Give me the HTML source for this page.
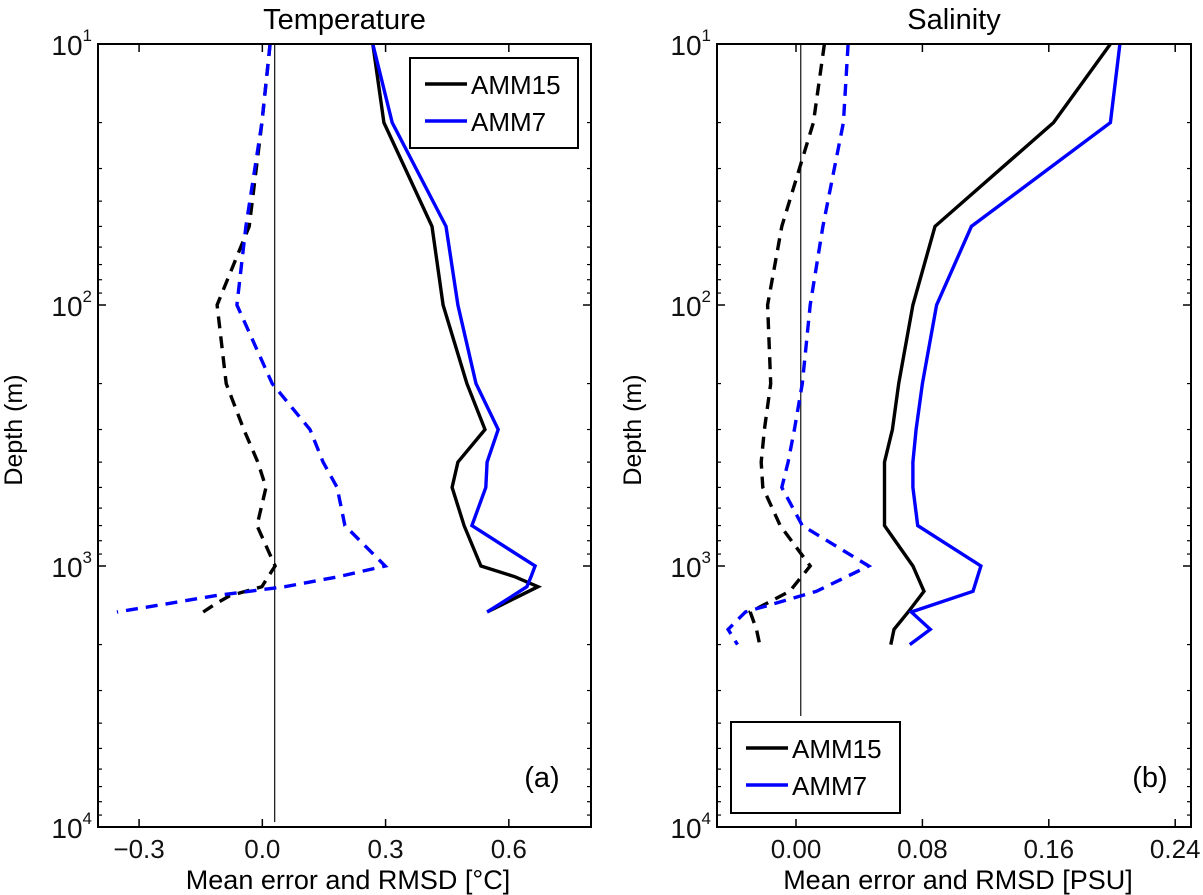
<!DOCTYPE html>
<html><head><meta charset="utf-8">
<style>
html,body{margin:0;padding:0;background:#fff;}
svg{display:block;font-family:"Liberation Sans","DejaVu Sans",sans-serif;}
</style></head>
<body>
<svg id="fig" width="1203" height="895" viewBox="0 0 1203 895" xmlns="http://www.w3.org/2000/svg"></svg>
<script>
// ---- Temperature panel data ----
const tDepths = [10,20,50,100,200,300,400,500,700,1000,1100,1200,1300,1400,1500];
const tRmsAMM15 = [0.269,0.296,0.413,0.440,0.498,0.542,0.476,0.462,0.491,0.532,0.615,0.671,0.627,0.586,0.547];
const tRmsAMM7  = [0.269,0.316,0.447,0.476,0.520,0.574,0.547,0.544,0.510,0.664,0.654,0.644,0.610,0.578,0.547];
const tMeAMM15  = [0.019,-0.001,-0.032,-0.110,-0.088,-0.045,-0.011,0.009,-0.013,0.031,0.014,-0.001,-0.079,-0.115,-0.144];
const tMeAMM7   = [0.019,-0.001,-0.040,-0.062,0.024,0.116,0.148,0.182,0.201,0.299,0.184,0.055,-0.115,-0.237,-0.354];
const tXTicks = [-0.3,0.0,0.3,0.6];
const tXTickLabels = ["\u22120.3","0.0","0.3","0.6"];
// ---- Salinity panel data ----
const sDepths = [10,20,50,100,200,300,400,500,700,1000,1250,1500,1750,2000];
const sRmsAMM15 = [0.199,0.163,0.088,0.074,0.065,0.061,0.056,0.056,0.056,0.074,0.081,0.071,0.062,0.060];
const sRmsAMM7  = [0.205,0.199,0.111,0.089,0.080,0.076,0.074,0.074,0.077,0.117,0.112,0.073,0.085,0.072];
const sMeAMM15  = [0.018,0.011,-0.009,-0.018,-0.016,-0.020,-0.022,-0.021,-0.010,0.009,-0.004,-0.029,-0.025,-0.023];
const sMeAMM7   = [0.033,0.030,0.017,0.009,0.004,-0.001,-0.005,-0.009,0.004,0.046,0.013,-0.032,-0.043,-0.037];
const sXTicks = [0.00,0.08,0.16,0.24];
const sXTickLabels = ["0.00","0.08","0.16","0.24"];
const yDecades = [1,2,3,4];

const NS="http://www.w3.org/2000/svg";
const svg=document.getElementById('fig');
function mk(tag,attrs,parent){const e=document.createElementNS(NS,tag);for(const k in attrs)e.setAttribute(k,attrs[k]);(parent||svg).appendChild(e);return e;}

function panel(cfg){
  const g=mk('g',{});
  
  
  const L=cfg.left,R=cfg.right,T=44,B=827;
  const xs=v=>L+(v-cfg.xmin)/(cfg.xmax-cfg.xmin)*(R-L);
  const ys=d=>T+(Math.log10(d)-1)/3*(B-T);
  const zl=mk('line',{x1:xs(cfg.zero),x2:xs(cfg.zero),y1:T,y2:cfg.zeroEnd,stroke:'#222','stroke-width':1.3},g);
  
  
  const series=[
    [cfg.meA,'#000','12,8','mean-error-amm15'],
    [cfg.meB,'#0000ff','12,8','mean-error-amm7'],
    [cfg.rmsA,'#000','','rmsd-amm15'],
    [cfg.rmsB,'#0000ff','','rmsd-amm7']];
  series.forEach(s=>{
    const pts=s[0].map((v,i)=>xs(v).toFixed(1)+','+ys(cfg.depths[i]).toFixed(1)).join(' ');
    const p=mk('polyline',{points:pts,fill:'none',stroke:s[1],'stroke-width':3.4,'stroke-linejoin':'miter'},g);
    if(s[2])p.setAttribute('stroke-dasharray',s[2]);
    
    
  });
  const fr=mk('rect',{x:L,y:T,width:R-L,height:B-T,fill:'none',stroke:'#000','stroke-width':2},g);
  
  
  yDecades.forEach(p=>{
    const y=ys(Math.pow(10,p));
    mk('line',{x1:L,x2:L+8,y1:y,y2:y,stroke:'#000','stroke-width':1.5},g);
    mk('line',{x1:R,x2:R-8,y1:y,y2:y,stroke:'#000','stroke-width':1.5},g);
    const t=mk('text',{x:L-6,y:y+11,'text-anchor':'end','font-size':28,fill:'#111'},g);
    
    
    t.textContent='10';
    const sp=mk('tspan',{dy:-14,'font-size':17},t);sp.textContent=String(p);
    if(p<4)for(let m=2;m<10;m++){
      const yy=ys(m*Math.pow(10,p));
      mk('line',{x1:L,x2:L+4,y1:yy,y2:yy,stroke:'#000','stroke-width':1.2},g);
      mk('line',{x1:R,x2:R-4,y1:yy,y2:yy,stroke:'#000','stroke-width':1.2},g);
    }
  });
  cfg.xt.forEach((v,i)=>{
    const x=xs(v);
    mk('line',{x1:x,x2:x,y1:B,y2:B-8,stroke:'#000','stroke-width':1.5},g);
    mk('line',{x1:x,x2:x,y1:T,y2:T+8,stroke:'#000','stroke-width':1.5},g);
    const t=mk('text',{x:x,y:858,'text-anchor':'middle','font-size':26,fill:'#111'},g);
    
    
    t.textContent=cfg.xtl[i];
  });
  const ti=mk('text',{x:(L+R)/2,y:29,'text-anchor':'middle','font-size':29,fill:'#000'},g);
  
  
  ti.textContent=cfg.title;
  const xl=mk('text',{x:cfg.xlabelX,y:889,'text-anchor':'middle','font-size':27,fill:'#000'},g);
  
  
  xl.textContent=cfg.xlabel;
  const yl=mk('text',{x:0,y:0,'text-anchor':'middle','font-size':25,fill:'#000',transform:`translate(${cfg.ylabelX},430) rotate(-90)`},g);
  
  
  yl.textContent='Depth (m)';
  const pl=mk('text',{x:cfg.tagX,y:787,'text-anchor':'middle','font-size':29,fill:'#000'},g);
  
  
  pl.textContent=cfg.tag;
  const lg=mk('g',{},g);
  
  
  const [lx,ly,lw,lh]=cfg.legend;
  mk('rect',{x:lx,y:ly,width:lw,height:lh,fill:'#fff',stroke:'#000','stroke-width':2},lg);
  [['AMM15','#000'],['AMM7','#0000ff']].forEach((e,i)=>{
    const yy=ly+26+i*37;
    const ln=mk('line',{x1:lx+15,x2:lx+57,y1:yy,y2:yy,stroke:e[1],'stroke-width':3.5},lg);
    
    
    const tx=mk('text',{x:lx+61,y:yy+10,'font-size':26,fill:'#000'},lg);
    
    
    tx.textContent=e[0];
  });
}
panel({name:'temperature-panel',left:98,right:591,xmin:-0.4,xmax:0.8,zero:0.03,zeroEnd:822,
  depths:tDepths,rmsA:tRmsAMM15,rmsB:tRmsAMM7,meA:tMeAMM15,meB:tMeAMM7,xt:tXTicks,xtl:tXTickLabels,
  title:'Temperature',xlabel:'Mean error and RMSD [\u00B0C]',xlabelX:348,ylabelX:22,tag:'(a)',tagX:542,
  legend:[410,58,168,90]});
panel({name:'salinity-panel',left:717,right:1191,xmin:-0.05,xmax:0.25,zero:0.003,zeroEnd:716,
  depths:sDepths,rmsA:sRmsAMM15,rmsB:sRmsAMM7,meA:sMeAMM15,meB:sMeAMM7,xt:sXTicks,xtl:sXTickLabels,
  title:'Salinity',xlabel:'Mean error and RMSD [PSU]',xlabelX:958,ylabelX:641,tag:'(b)',tagX:1150,
  legend:[731,722,169,91]});
</script>
</body></html>
